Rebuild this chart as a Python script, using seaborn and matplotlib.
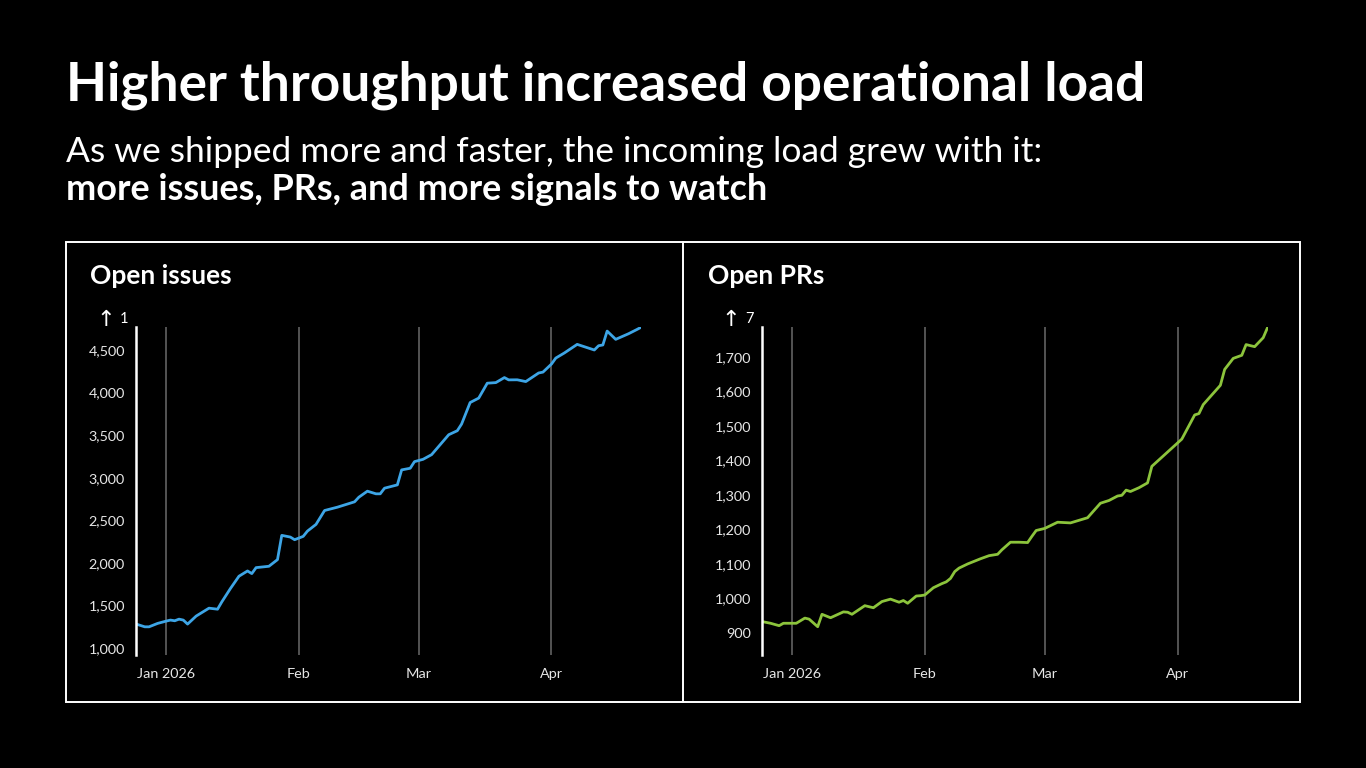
import matplotlib
matplotlib.use("Agg")
import matplotlib.pyplot as plt
from matplotlib.ticker import FuncFormatter, FixedLocator
from matplotlib.patches import Rectangle
from matplotlib.lines import Line2D
import seaborn as sns
import pandas as pd

# ---------------- data ----------------
issues_dates = ["2025-12-25", "2025-12-27", "2025-12-28", "2025-12-30", "2026-01-01", "2026-01-02",
                "2026-01-03", "2026-01-04", "2026-01-05", "2026-01-06", "2026-01-08", "2026-01-09",
                "2026-01-11", "2026-01-13", "2026-01-14", "2026-01-16", "2026-01-18", "2026-01-20",
                "2026-01-21", "2026-01-22", "2026-01-25", "2026-01-27", "2026-01-28", "2026-01-30",
                "2026-01-31", "2026-02-02", "2026-02-03", "2026-02-05", "2026-02-07", "2026-02-10",
                "2026-02-14", "2026-02-15", "2026-02-17", "2026-02-19", "2026-02-20", "2026-02-21",
                "2026-02-24", "2026-02-25", "2026-02-27", "2026-02-28", "2026-03-02", "2026-03-04",
                "2026-03-08", "2026-03-10", "2026-03-11", "2026-03-13", "2026-03-15", "2026-03-17",
                "2026-03-19", "2026-03-21", "2026-03-22", "2026-03-24", "2026-03-26", "2026-03-29",
                "2026-03-30", "2026-04-01", "2026-04-02", "2026-04-04", "2026-04-07", "2026-04-11",
                "2026-04-12", "2026-04-13", "2026-04-14", "2026-04-16", "2026-04-19", "2026-04-21",
                "2026-04-22"]
issues_values = [1281, 1249, 1249, 1289, 1316, 1328,
                 1320, 1339, 1328, 1281, 1375, 1406,
                 1468, 1456, 1542, 1698, 1843, 1905,
                 1874, 1944, 1960, 2038, 2323, 2303,
                 2272, 2311, 2373, 2452, 2615, 2654,
                 2717, 2771, 2842, 2811, 2811, 2877,
                 2916, 3092, 3111, 3189, 3216, 3271,
                 3505, 3552, 3630, 3883, 3935, 4110,
                 4117, 4176, 4149, 4150, 4129, 4230,
                 4240, 4335, 4405, 4465, 4566, 4500,
                 4550, 4559, 4722, 4625, 4691, 4742,
                 4769]

prs_dates = ["2025-12-25", "2025-12-27", "2025-12-29", "2025-12-30", "2026-01-02", "2026-01-04",
             "2026-01-05", "2026-01-07", "2026-01-08", "2026-01-10", "2026-01-13", "2026-01-14",
             "2026-01-15", "2026-01-18", "2026-01-20", "2026-01-22", "2026-01-24", "2026-01-26",
             "2026-01-27", "2026-01-28", "2026-01-30", "2026-01-31", "2026-02-01", "2026-02-03",
             "2026-02-05", "2026-02-06", "2026-02-07", "2026-02-08", "2026-02-09", "2026-02-11",
             "2026-02-14", "2026-02-16", "2026-02-18", "2026-02-19", "2026-02-21", "2026-02-23",
             "2026-02-25", "2026-02-26", "2026-02-27", "2026-03-01", "2026-03-04", "2026-03-07",
             "2026-03-11", "2026-03-14", "2026-03-16", "2026-03-18", "2026-03-19", "2026-03-20",
             "2026-03-21", "2026-03-23", "2026-03-25", "2026-03-26", "2026-04-02", "2026-04-05",
             "2026-04-06", "2026-04-07", "2026-04-11", "2026-04-12", "2026-04-14", "2026-04-16",
             "2026-04-17", "2026-04-19", "2026-04-21", "2026-04-22"]
prs_values = [933, 928, 921, 928, 928, 943,
              940, 918, 954, 944, 961, 960,
              954, 979, 973, 991, 998, 989,
              994, 986, 1007, 1008, 1010, 1031,
              1043, 1048, 1058, 1078, 1088, 1100,
              1115, 1124, 1128, 1141, 1163, 1163,
              1162, 1180, 1197, 1203, 1221, 1219,
              1234, 1276, 1284, 1297, 1299, 1314,
              1310, 1321, 1335, 1383, 1462, 1532,
              1536, 1562, 1618, 1664, 1696, 1705,
              1736, 1730, 1756, 1785]

issues_yticks = [1000, 1500, 2000, 2500, 3000, 3500, 4000, 4500]
prs_yticks = [900, 1000, 1100, 1200, 1300, 1400, 1500, 1600, 1700]
month_ticks = ["2026-01-01", "2026-02-01", "2026-03-01", "2026-04-01"]
month_labels = ["Jan 2026", "Feb", "Mar", "Apr"]

title = "Higher throughput increased operational load"
subtitle1 = "As we shipped more and faster, the incoming load grew with it:"
subtitle2 = "more issues, PRs, and more signals to watch"
panel_titles = ["Open issues", "Open PRs"]
axis_marks = ["1", "7"]

# ---------------- style ----------------
sns.set_theme(style="dark")
FONT = ["Lato", "DejaVu Sans"]
plt.rcParams["font.family"] = FONT
BG = "#000000"
FG = "#FFFFFF"
TICK = "#E6E6E6"
GRID = "#5A5A5A"
BLUE = "#3DA5E6"
GREEN = "#8CC43C"

W, H = 1366, 768
fig = plt.figure(figsize=(W / 100, H / 100), dpi=100, facecolor=BG)

def fx(px):
    return px / W

def fy(py):
    return 1 - py / H

fig.text(fx(66), fy(101), title, color=FG, fontsize=38.3, fontweight="bold",
         va="baseline", ha="left")
fig.text(fx(66), fy(162), subtitle1, color=FG, fontsize=25.5, va="baseline", ha="left")
fig.text(fx(66), fy(200), subtitle2, color=FG, fontsize=25.9, fontweight="bold",
         va="baseline", ha="left")

# panel frame
fig.patches.append(Rectangle((fx(66), fy(702)), fx(1300) - fx(66), fy(242) - fy(702),
                             transform=fig.transFigure, fill=False, edgecolor=FG,
                             linewidth=1.4))
fig.lines.append(Line2D([fx(683), fx(683)], [fy(242), fy(702)], transform=fig.transFigure,
                        color=FG, linewidth=1.4))

panels = [
    dict(dates=issues_dates, values=issues_values, color=BLUE, yticks=issues_yticks,
         ylim=(918, 4770), left=136.2, right=641.4, title_x=90, mark_x=96),
    dict(dates=prs_dates, values=prs_values, color=GREEN, yticks=prs_yticks,
         ylim=(836, 1787), left=762.0, right=1267.5, title_x=708, mark_x=721),
]

for i, p in enumerate(panels):
    ax = fig.add_axes([fx(p["left"]), fy(655), fx(p["right"]) - fx(p["left"]), fy(327) - fy(655)])
    ax.set_facecolor(BG)
    df = pd.DataFrame({"date": pd.to_datetime(p["dates"]), "value": p["values"]})
    sns.lineplot(data=df, x="date", y="value", ax=ax, color=p["color"], linewidth=2.0)
    ax.set_xlim(pd.Timestamp(p["dates"][0]), pd.Timestamp(p["dates"][-1]))
    ax.set_ylim(*p["ylim"])
    ax.set_xlabel("")
    ax.set_ylabel("")

    mt = pd.to_datetime(month_ticks)
    ax.set_xticks(mt)
    ax.set_xticklabels(month_labels)
    for d in mt:
        ax.axvline(d, color=GRID, linewidth=1.3, zorder=0)
    ax.grid(False)
    ax.yaxis.set_major_locator(FixedLocator(p["yticks"]))
    ax.yaxis.set_major_formatter(FuncFormatter(lambda v, pos: f"{int(v):,}"))
    ax.tick_params(axis="both", length=0, colors=TICK, labelsize=10.4)
    ax.tick_params(axis="y", pad=8)
    ax.tick_params(axis="x", pad=9)
    for s in ["top", "right", "bottom"]:
        ax.spines[s].set_visible(False)
    ax.spines["left"].set_visible(True)
    ax.spines["left"].set_color(FG)
    ax.spines["left"].set_linewidth(1.8)

    fig.text(fx(p["title_x"]), fy(284), panel_titles[i], color=FG, fontsize=19,
             fontweight="bold", va="baseline", ha="left")
    fig.text(fx(p["mark_x"]), fy(326), "\u2191", color=FG, fontsize=16, va="baseline",
             ha="left", family=["DejaVu Sans"])
    fig.text(fx(p["mark_x"] + 24), fy(323), axis_marks[i], color=FG, fontsize=10.5,
             va="baseline", ha="left")

fig.savefig("out.png", dpi=100, facecolor=BG)
